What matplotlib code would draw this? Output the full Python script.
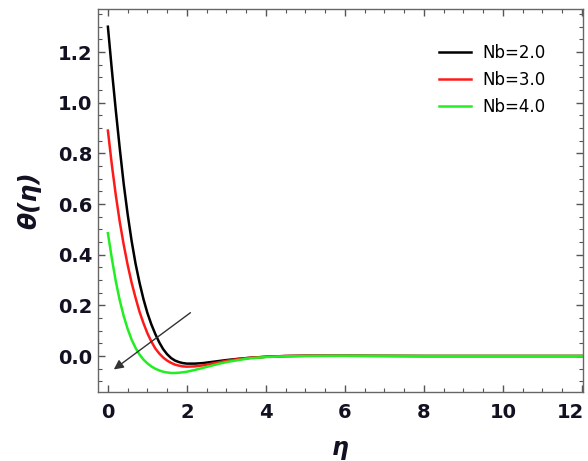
import matplotlib
matplotlib.use("Agg")
import matplotlib.pyplot as plt
from matplotlib.ticker import MultipleLocator, FormatStrFormatter
from matplotlib.transforms import ScaledTranslation

# temperature profiles theta(eta) for three values of Nb
eta = [0.0, 0.1, 0.2, 0.3, 0.4, 0.5, 0.6, 0.7, 0.8, 0.9, 1.0, 1.1, 1.2, 1.3,
       1.4, 1.5, 1.6, 1.7, 1.8, 1.9, 2.0, 2.2, 2.4, 2.6, 2.8, 3.0, 3.3, 3.6,
       4.0, 4.5, 5.0, 6.0, 8.0, 10.0, 12.0]

theta_nb2 = [1.30, 1.13, 0.97, 0.82, 0.68, 0.56, 0.455, 0.365, 0.29, 0.225,
             0.17, 0.125, 0.087, 0.054, 0.027, 0.007, -0.008, -0.018, -0.024,
             -0.028, -0.030, -0.030, -0.028, -0.024, -0.020, -0.016, -0.011,
             -0.007, -0.003, 0.0, 0.001, 0.001, 0.0, 0.0, 0.0]

theta_nb3 = [0.89, 0.755, 0.635, 0.53, 0.44, 0.36, 0.29, 0.23, 0.175, 0.13,
             0.09, 0.057, 0.03, 0.01, -0.006, -0.018, -0.027, -0.034,
             -0.038, -0.041, -0.042, -0.041, -0.037, -0.031, -0.025, -0.019,
             -0.012, -0.007, -0.003, 0.0, 0.001, 0.001, 0.0, 0.0, 0.0]

theta_nb4 = [0.485, 0.385, 0.295, 0.22, 0.158, 0.107, 0.065, 0.032, 0.006,
             -0.014, -0.029, -0.041, -0.050, -0.057, -0.062, -0.065, -0.067,
             -0.067, -0.066, -0.064, -0.062, -0.055, -0.047, -0.039, -0.031,
             -0.024, -0.016, -0.009, -0.004, -0.001, 0.0, 0.001, 0.0, 0.0, 0.0]

labels = ["Nb=2.0", "Nb=3.0", "Nb=4.0"]
colors = ["#000000", "#ff1a1a", "#22ee22"]

fig = plt.figure(figsize=(5.88, 4.61), dpi=100)
ax = fig.add_axes([0.1667, 0.1497, 0.8248, 0.8308])

for y, lab, c in zip([theta_nb2, theta_nb3, theta_nb4], labels, colors):
    ax.plot(eta, y, color=c, lw=1.8, label=lab)

ax.set_xlim(-0.25, 12.03)
ax.set_ylim(-0.142, 1.37)

ax.xaxis.set_major_locator(MultipleLocator(2))
ax.xaxis.set_minor_locator(MultipleLocator(0.5))
ax.yaxis.set_major_locator(MultipleLocator(0.2))
ax.yaxis.set_minor_locator(MultipleLocator(0.05))
ax.yaxis.set_major_formatter(FormatStrFormatter("%.1f"))

ax.tick_params(which="both", direction="in", top=True, right=True,
               color="#555555")
ax.tick_params(which="major", length=5, width=1)
ax.tick_params(which="minor", length=3, width=0.8)
ax.tick_params(axis="both", which="major", labelsize=14, labelcolor="#111122")
ax.tick_params(axis="y", which="major", pad=4)
ax.tick_params(axis="x", which="major", pad=8)
for lbl in ax.get_xticklabels() + ax.get_yticklabels():
    lbl.set_fontweight("bold")
    lbl.set_family("DejaVu Sans")

# nudge the rightmost x tick label so it stays inside the canvas
fig.canvas.draw()
for tick in ax.xaxis.get_major_ticks():
    if tick.label1.get_text() == "12":
        tick.label1.set_transform(tick.label1.get_transform()
                                  + ScaledTranslation(-0.11, 0,
                                                      fig.dpi_scale_trans))

for sp in ax.spines.values():
    sp.set_color("#666666")
    sp.set_linewidth(1.0)

ax.set_xlabel("η", fontsize=17, fontstyle="italic", fontweight="bold",
              family="DejaVu Sans", labelpad=10, color="#111122")
ax.set_ylabel("θ(η)", fontsize=18, fontstyle="italic", fontweight="bold",
              family="DejaVu Sans", labelpad=12, color="#111122")

ax.annotate("", xy=(0.15, -0.053), xytext=(2.09, 0.171),
            arrowprops=dict(arrowstyle="-|>", color="#333333", lw=1.0,
                            mutation_scale=14, shrinkA=0, shrinkB=0))

leg = ax.legend(loc="upper left", bbox_to_anchor=(0.69, 0.927), frameon=False,
                prop={"family": "DejaVu Sans", "size": 12},
                handlelength=1.9, labelspacing=0.55, handletextpad=0.66,
                borderaxespad=0)

fig.savefig("out.png", dpi=100)
